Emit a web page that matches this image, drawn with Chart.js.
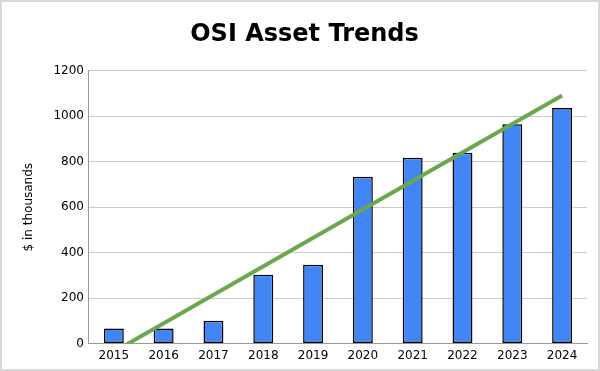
<!DOCTYPE html>
<html>
<head>
<meta charset="utf-8">
<script src="https://cdn.jsdelivr.net/npm/chart.js@4/dist/chart.umd.min.js"></script>
<style>
html,body{margin:0;padding:0;background:#fff;}
#wrap{width:600px;height:371px;position:relative;}
</style>
</head>
<body>
<div id="wrap"><canvas id="c" width="600" height="371"></canvas></div>
<script>
const years = ['2015','2016','2017','2018','2019','2020','2021','2022','2023','2024'];
const assets = [66, 66, 101, 303, 347, 734, 818, 840, 965, 1036];
// trend line end points (straight line 2015 -> 2024)
const trend = [-36, null, null, null, null, null, null, null, null, 1091];
const yTicks = [0, 200, 400, 600, 800, 1000, 1200];

const frame = {
  id: 'frame',
  beforeDraw(chart) {
    const ctx = chart.ctx;
    ctx.save();
    ctx.fillStyle = '#fff';
    ctx.fillRect(0, 0, chart.width, chart.height);
    ctx.strokeStyle = '#d9d9d9';
    ctx.lineWidth = 2;
    ctx.strokeRect(1, 1, chart.width - 2, chart.height - 2);
    ctx.restore();
  }
};

new Chart(document.getElementById('c'), {
  data: {
    labels: years,
    datasets: [
      {
        type: 'line',
        label: 'Trend',
        data: trend,
        borderColor: '#6aa84f',
        borderWidth: 4,
        pointRadius: 0,
        spanGaps: true,
        fill: false,
        clip: 0,
        order: 0
      },
      {
        type: 'bar',
        label: 'Assets',
        data: assets,
        backgroundColor: '#4285f4',
        borderColor: '#000',
        borderWidth: 1.5,
        borderSkipped: false,
        barPercentage: 0.4,
        categoryPercentage: 1.0,
        order: 1
      }
    ]
  },
  options: {
    responsive: false,
    animation: false,
    devicePixelRatio: 1,
    layout: { padding: { top: 16, left: 22, right: 13, bottom: 3 } },
    plugins: {
      legend: { display: false },
      tooltip: { enabled: false },
      title: {
        display: true,
        text: 'OSI Asset Trends',
        color: '#000',
        font: { family: 'DejaVu Sans', size: 24, weight: 'bold' },
        padding: { top: 4, bottom: 22 }
      }
    },
    scales: {
      x: {
        type: 'category',
        offset: true,
        grid: { display: false, drawTicks: false },
        border: { display: true, color: '#999', width: 1 },
        ticks: { color: '#000', font: { family: 'DejaVu Sans', size: 12 }, padding: 5, maxRotation: 0 }
      },
      y: {
        min: 0,
        max: 1200,
        afterBuildTicks(axis) { axis.ticks = yTicks.map(v => ({ value: v })); },
        grid: { color: '#cccccc', drawTicks: false },
        border: { display: true, color: '#999', width: 1 },
        ticks: {
          color: '#000',
          font: { family: 'DejaVu Sans', size: 12 },
          padding: 5,
          callback: (v) => String(v)
        },
        title: {
          display: true,
          text: '$ in thousands',
          color: '#000',
          font: { family: 'DejaVu Sans', size: 12 },
          padding: { top: 0, bottom: 12 }
        }
      }
    }
  },
  plugins: [frame]
});
</script>
</body>
</html>
